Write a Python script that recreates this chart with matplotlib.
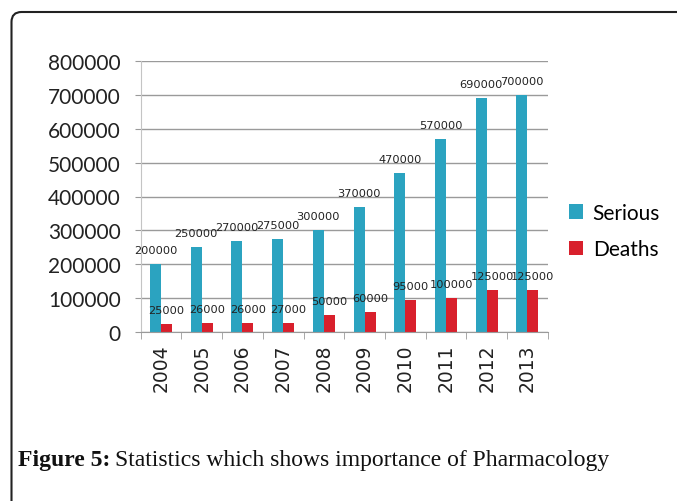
import numpy as np
import matplotlib.pyplot as plt
from matplotlib.patches import FancyBboxPatch
from matplotlib.transforms import IdentityTransform

years = ['2004', '2005', '2006', '2007', '2008', '2009', '2010', '2011', '2012', '2013']
serious = [200000, 250000, 270000, 275000, 300000, 370000, 470000, 570000, 690000, 700000]
deaths = [25000, 26000, 26000, 27000, 50000, 60000, 95000, 100000, 125000, 125000]
yticks = [0, 100000, 200000, 300000, 400000, 500000, 600000, 700000, 800000]

teal = '#2ba3c0'
red = '#d8202c'
grid_c = '#9a9a9a'
font = 'Lato'

W, H = 677, 502
fig = plt.figure(figsize=(W/100, H/100), dpi=100)

# axes placed in pixel terms of the reference
left, right, top, bottom = 140.7, 547.7, 62, 333
ax = fig.add_axes([left/W, 1 - bottom/H, (right-left)/W, (bottom-top)/H])

x = np.arange(len(years))
bw = 0.27
b1 = ax.bar(x - 0.135, serious, bw, color=teal, label='Serious')
b2 = ax.bar(x + 0.135, deaths, bw, color=red, label='Deaths')

for xi, v in zip(x, serious):
    ax.annotate(str(v), (xi - 0.135, v), xytext=(0, 14), textcoords='offset pixels',
                ha='center', va='center', fontsize=8.2, family='DejaVu Sans', color='#222222')
for xi, v in zip(x, deaths):
    ax.annotate(str(v), (xi + 0.135, v), xytext=(0, 14), textcoords='offset pixels',
                ha='center', va='center', fontsize=8.2, family='DejaVu Sans', color='#222222')

ax.set_xlim(-0.5, 9.5)
ax.set_ylim(0, 800000)
ax.set_yticks(yticks)
ax.set_yticklabels([str(t) for t in yticks], family=font, fontsize=15, color='#222222')
ax.yaxis.grid(True, color=grid_c, linewidth=1)
ax.set_axisbelow(True)
ax.tick_params(axis='y', length=4.5, color=grid_c, pad=10)

ax.set_xticks(x)
ax.set_xticklabels(years, rotation=90, family='DejaVu Sans', fontsize=13.5, color='#222222')
ax.set_xticks(np.arange(-0.5, 10, 1), minor=True)
ax.tick_params(axis='x', which='major', length=0, pad=8)
ax.tick_params(axis='x', which='minor', length=5, color=grid_c)

for s in ['top', 'right']:
    ax.spines[s].set_visible(False)
ax.spines['left'].set_color('#c4c4c4')
ax.spines['bottom'].set_color(grid_c)

fig.legend(handles=[b1, b2], loc='upper left', bbox_to_anchor=(550/W, 1 - 185/H),
           frameon=False, prop={'family': font, 'size': 15},
           handlelength=0.7, handleheight=0.7, handletextpad=0.45, labelspacing=0.8)

# frame around the figure panel
box = FancyBboxPatch((11.5, -60), 720, 489 + 60, boxstyle='round,pad=0,rounding_size=10',
                     transform=IdentityTransform(), fill=False, edgecolor='#222222',
                     linewidth=1.5)
fig.patches.append(box)

# caption
t1 = fig.text(18/W, 1 - 466/H, 'Figure 5:', family='Liberation Serif', weight='bold',
              fontsize=17, color='#111111', va='baseline')
r = fig.canvas.get_renderer()
bb = t1.get_window_extent(renderer=r)
fig.text((bb.x1 + 5)/W, 1 - 466/H, 'Statistics which shows importance of Pharmacology',
         family='Liberation Serif', fontsize=17, color='#111111', va='baseline')

fig.savefig('out.png', dpi=100)
